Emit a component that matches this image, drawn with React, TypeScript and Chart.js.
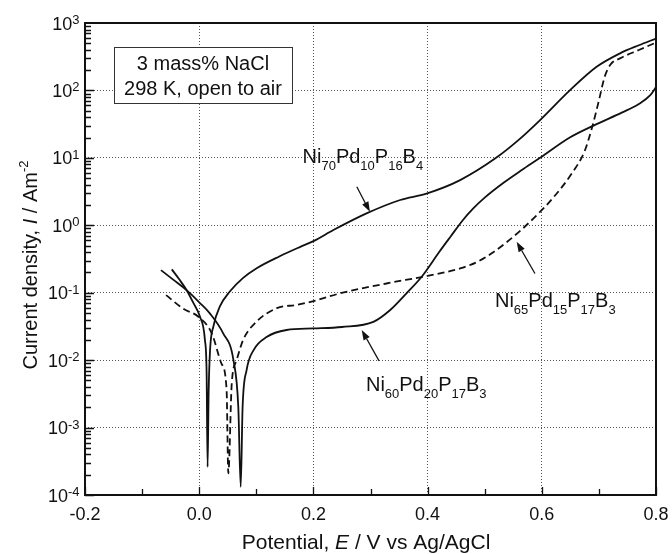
import React, { useEffect, useRef } from "react";
import { Chart, registerables } from "chart.js";

Chart.register(...registerables);

// ---------- data ----------
const xTickValues = [-0.2, 0, 0.2, 0.4, 0.6, 0.8];
const xTickLabels = ["-0.2", "0.0", "0.2", "0.4", "0.6", "0.8"];
const xMinorValues = [-0.1, 0.1, 0.3, 0.5, 0.7];
const yExponents = [-4, -3, -2, -1, 0, 1, 2, 3];

// Ni70Pd10P16B4 (solid)
const ni70E = [-0.048, -0.035, -0.022, -0.01, 0.0014, 0.01, 0.013, 0.0147, 0.0165, 0.019, 0.025, 0.036, 0.054, 0.077, 0.1, 0.141, 0.177, 0.2, 0.235, 0.293, 0.352, 0.398, 0.457, 0.52, 0.56, 0.597, 0.649, 0.696, 0.737, 0.77, 0.8];
const ni70I = [0.222, 0.158, 0.109, 0.07, 0.044, 0.02, 0.0063, 0.00026, 0.0032, 0.014, 0.032, 0.062, 0.105, 0.166, 0.229, 0.347, 0.479, 0.582, 0.85, 1.5, 2.37, 2.95, 4.68, 10, 18.6, 36.3, 100, 224, 355, 468, 589];

// Ni60Pd20P17B3 (solid)
const ni60E = [-0.067, -0.045, -0.022, 0.0, 0.019, 0.042, 0.06, 0.0685, 0.0727, 0.076, 0.083, 0.095, 0.118, 0.153, 0.2, 0.25, 0.305, 0.334, 0.363, 0.39, 0.42, 0.44, 0.462, 0.48, 0.5, 0.533, 0.565, 0.597, 0.649, 0.696, 0.74, 0.77, 0.79, 0.8];
const ni60I = [0.216, 0.155, 0.109, 0.072, 0.049, 0.025, 0.01, 0.002, 0.000132, 0.002, 0.0071, 0.014, 0.022, 0.028, 0.0295, 0.031, 0.037, 0.055, 0.098, 0.174, 0.398, 0.676, 1.2, 1.78, 2.57, 4.27, 6.6, 10, 20, 31.6, 46.8, 63, 85, 112];

// Ni65Pd15P17B3 (dashed)
const ni65E = [-0.058, -0.028, -0.0015, 0.022, 0.039, 0.048, 0.051, 0.057, 0.0657, 0.077, 0.1, 0.136, 0.171, 0.2, 0.247, 0.328, 0.4, 0.457, 0.49, 0.515, 0.54, 0.565, 0.59, 0.62, 0.655, 0.675, 0.688, 0.7, 0.71, 0.72, 0.737, 0.77, 0.8];
const ni65I = [0.092, 0.058, 0.044, 0.025, 0.0089, 0.0036, 0.00021, 0.0045, 0.01, 0.02, 0.037, 0.059, 0.066, 0.075, 0.098, 0.137, 0.178, 0.229, 0.295, 0.398, 0.575, 0.87, 1.38, 2.57, 6.3, 12.6, 28.2, 70.8, 158, 240, 299, 398, 513];

// ---------- text helpers ----------
const FAMILY = "'Liberation Sans', Arial, Helvetica, sans-serif";
type Seg = { t: string; k?: "sub" | "sup"; it?: boolean };
const fnt = (size: number, italic = false) => `${italic ? "italic " : ""}${size}px ${FAMILY}`;

function drawRich(
  ctx: CanvasRenderingContext2D,
  segs: Seg[],
  x: number,
  y: number,
  big: number,
  small: number,
  align: "left" | "center" | "right",
  subDy: number,
  supDy: number
) {
  const widths = segs.map((s) => {
    ctx.font = fnt(s.k ? small : big, s.it);
    return ctx.measureText(s.t).width;
  });
  const total = widths.reduce((a, b) => a + b, 0);
  let cx = align === "left" ? x : align === "center" ? x - total / 2 : x - total;
  ctx.textAlign = "left";
  ctx.textBaseline = "alphabetic";
  segs.forEach((s, i) => {
    ctx.font = fnt(s.k ? small : big, s.it);
    const dy = s.k === "sub" ? subDy : s.k === "sup" ? -supDy : 0;
    ctx.fillText(s.t, cx, y + dy);
    cx += widths[i];
  });
}

const labelNi70: Seg[] = [{ t: "Ni" }, { t: "70", k: "sub" }, { t: "Pd" }, { t: "10", k: "sub" }, { t: "P" }, { t: "16", k: "sub" }, { t: "B" }, { t: "4", k: "sub" }];
const labelNi60: Seg[] = [{ t: "Ni" }, { t: "60", k: "sub" }, { t: "Pd" }, { t: "20", k: "sub" }, { t: "P" }, { t: "17", k: "sub" }, { t: "B" }, { t: "3", k: "sub" }];
const labelNi65: Seg[] = [{ t: "Ni" }, { t: "65", k: "sub" }, { t: "Pd" }, { t: "15", k: "sub" }, { t: "P" }, { t: "17", k: "sub" }, { t: "B" }, { t: "3", k: "sub" }];

const annotations = [
  { segs: labelNi70, at: [0.181, 8.45], from: [0.276, 3.72], to: [0.299, 1.585] },
  { segs: labelNi65, at: [0.518, 0.0618], from: [0.588, 0.193], to: [0.556, 0.569] },
  { segs: labelNi60, at: [0.292, 0.00351], from: [0.315, 0.00977], to: [0.2846, 0.0279] },
];

const overlayPlugin = {
  id: "overlay",
  afterDraw(chart: any) {
    const { ctx, chartArea: a, scales } = chart;
    const xs = scales.x;
    const ys = scales.y;
    ctx.save();
    ctx.fillStyle = "#111";
    ctx.strokeStyle = "#111";

    // y ticks (inward, log minors)
    ctx.lineWidth = 1.3;
    ctx.beginPath();
    for (let e = -4; e <= 2; e++) {
      for (let m = 1; m <= 9; m++) {
        const py = Math.round(ys.getPixelForValue(m * Math.pow(10, e))) + 0.5;
        const len = m === 1 ? 9 : 6;
        ctx.moveTo(a.left, py);
        ctx.lineTo(a.left + len, py);
      }
    }
    ctx.stroke();
    // x ticks (inward)
    ctx.beginPath();
    xTickValues.forEach((v) => {
      const px = Math.round(xs.getPixelForValue(v)) + 0.5;
      ctx.moveTo(px, a.bottom);
      ctx.lineTo(px, a.bottom - 8);
    });
    xMinorValues.forEach((v) => {
      const px = Math.round(xs.getPixelForValue(v)) + 0.5;
      ctx.moveTo(px, a.bottom);
      ctx.lineTo(px, a.bottom - 6);
    });
    ctx.stroke();

    // frame
    ctx.lineWidth = 2;
    ctx.strokeRect(a.left, a.top, a.right - a.left, a.bottom - a.top);

    // y tick labels
    yExponents.forEach((e) => {
      const py = ys.getPixelForValue(Math.pow(10, e));
      drawRich(ctx, [{ t: "10" }, { t: String(e), k: "sup" }], a.left - 5.5, py + 6.5, 18, 13, "right", 0, 5.5);
    });
    // x tick labels
    ctx.font = fnt(18);
    ctx.textAlign = "center";
    ctx.textBaseline = "alphabetic";
    xTickValues.forEach((v, i) => {
      ctx.fillText(xTickLabels[i], xs.getPixelForValue(v), a.bottom + 25);
    });

    // axis titles
    drawRich(ctx, [{ t: "Potential, " }, { t: "E", it: true }, { t: " / V vs Ag/AgCl" }], 366, 549, 21, 13, "center", 0, 8);
    ctx.save();
    ctx.translate(37, 265);
    ctx.rotate(-Math.PI / 2);
    drawRich(ctx, [{ t: "Current density, " }, { t: "I", it: true }, { t: " / Am" }, { t: "-2", k: "sup" }], 0, 0, 20, 13, "center", 0, 9);
    ctx.restore();

    // inset box
    const bx = a.left + 29, by = a.top + 24, bw = 178, bh = 56;
    ctx.fillStyle = "#fff";
    ctx.fillRect(bx, by, bw, bh);
    ctx.lineWidth = 1;
    ctx.strokeStyle = "#333";
    ctx.strokeRect(bx + 0.5, by + 0.5, bw, bh);
    ctx.fillStyle = "#111";
    ctx.font = fnt(20);
    ctx.textAlign = "center";
    ctx.fillText("3 mass% NaCl", bx + bw / 2, by + 23);
    ctx.fillText("298 K, open to air", bx + bw / 2, by + 48);

    // annotations + arrows
    ctx.strokeStyle = "#111";
    annotations.forEach((an) => {
      const lx = xs.getPixelForValue(an.at[0]);
      const ly = ys.getPixelForValue(an.at[1]);
      drawRich(ctx, an.segs, lx, ly, 20, 13, "left", 7.5, 0);
      const x1 = xs.getPixelForValue(an.from[0]);
      const y1 = ys.getPixelForValue(an.from[1]);
      const x2 = xs.getPixelForValue(an.to[0]);
      const y2 = ys.getPixelForValue(an.to[1]);
      const ang = Math.atan2(y2 - y1, x2 - x1);
      const hl = 10, hw = 3.5;
      const bxp = x2 - hl * Math.cos(ang);
      const byp = y2 - hl * Math.sin(ang);
      ctx.lineWidth = 1.3;
      ctx.beginPath();
      ctx.moveTo(x1, y1);
      ctx.lineTo(bxp, byp);
      ctx.stroke();
      ctx.beginPath();
      ctx.moveTo(x2, y2);
      ctx.lineTo(bxp + hw * Math.sin(ang), byp - hw * Math.cos(ang));
      ctx.lineTo(bxp - hw * Math.sin(ang), byp + hw * Math.cos(ang));
      ctx.closePath();
      ctx.fill();
    });

    ctx.restore();
  },
};

const toPoints = (xs: number[], ys: number[]) => xs.map((x, i) => ({ x, y: ys[i] }));

export default function App() {
  const ref = useRef<HTMLCanvasElement | null>(null);
  useEffect(() => {
    if (!ref.current) return;
    const common = {
      borderColor: "#111",
      borderWidth: 1.8,
      pointRadius: 0,
      fill: false,
      cubicInterpolationMode: "monotone" as const,
    };
    const chart = new Chart(ref.current, {
      type: "line",
      data: {
        datasets: [
          { ...common, label: "Ni70Pd10P16B4", data: toPoints(ni70E, ni70I) },
          { ...common, label: "Ni60Pd20P17B3", data: toPoints(ni60E, ni60I) },
          { ...common, label: "Ni65Pd15P17B3", data: toPoints(ni65E, ni65I), borderDash: [7, 4] },
        ],
      },
      options: {
        animation: false,
        responsive: false,
        devicePixelRatio: 1,
        parsing: false as any,
        layout: { padding: { left: 85, top: 23, right: 16, bottom: 59 } },
        plugins: { legend: { display: false }, tooltip: { enabled: false } },
        scales: {
          x: {
            type: "linear",
            min: -0.2,
            max: 0.8,
            afterBuildTicks: (s: any) => {
              s.ticks = xTickValues.map((v) => ({ value: v }));
            },
            ticks: { display: false },
            grid: { color: "#555", lineWidth: 1, drawTicks: false },
            border: { display: false, dash: [1, 2] },
          },
          y: {
            type: "logarithmic",
            min: 1e-4,
            max: 1e3,
            afterBuildTicks: (s: any) => {
              s.ticks = yExponents.map((e) => ({ value: Math.pow(10, e) }));
            },
            ticks: { display: false },
            grid: { color: "#555", lineWidth: 1, drawTicks: false },
            border: { display: false, dash: [1, 2] },
          },
        },
      },
      plugins: [overlayPlugin],
    });
    return () => chart.destroy();
  }, []);
  return (
    <div style={{ position: "absolute", left: 0, top: 0, width: 672, height: 554, background: "#fff" }}>
      <canvas ref={ref} width={672} height={554} style={{ width: 672, height: 554, display: "block" }} />
    </div>
  );
}
